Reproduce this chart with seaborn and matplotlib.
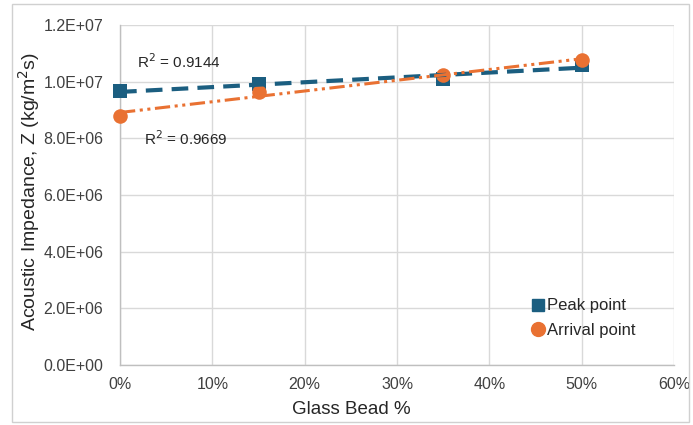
import numpy as np
import pandas as pd
import matplotlib
matplotlib.use("Agg")
import matplotlib.pyplot as plt
import seaborn as sns
from matplotlib.patches import Rectangle
from matplotlib.lines import Line2D

glass_bead = [0, 15, 35, 50]
peak_point = [9.68e6, 9.90e6, 1.008e7, 1.060e7]
arrival_point = [8.79e6, 9.65e6, 1.025e7, 1.075e7]
r2_labels = ["R$^2$ = 0.9144", "R$^2$ = 0.9669"]
series_names = ["Peak point", "Arrival point"]
y_tick_labels = ["0.0E+00", "2.0E+06", "4.0E+06", "6.0E+06", "8.0E+06", "1.0E+07", "1.2E+07"]

sns.set_theme(style="whitegrid")
plt.rcParams['font.family'] = ['Liberation Sans', 'DejaVu Sans']

blue = "#1B5E80"
orange = "#E97132"

fig = plt.figure(figsize=(6.93, 4.25), dpi=100)
ax = fig.add_axes([0.1732, 0.1412, 0.7994, 0.8])

df = pd.DataFrame({"x": glass_bead + glass_bead,
                   "y": peak_point + arrival_point,
                   "s": [series_names[0]] * 4 + [series_names[1]] * 4})

sns.scatterplot(data=df[df.s == series_names[0]], x="x", y="y", marker="s", s=90,
                color=blue, edgecolor=blue, linewidth=0, ax=ax, legend=False,
                zorder=3, clip_on=False)
sns.scatterplot(data=df[df.s == series_names[1]], x="x", y="y", marker="o", s=110,
                color=orange, edgecolor=orange, linewidth=0, ax=ax, legend=False,
                zorder=4, clip_on=False)

xs = np.array([glass_bead[0], glass_bead[-1]], dtype=float)
p1 = np.polyfit(glass_bead, peak_point, 1)
p2 = np.polyfit(glass_bead, arrival_point, 1)
ax.plot(xs, np.polyval(p1, xs), color=blue, lw=3.0, dashes=(4, 2.2), zorder=5, clip_on=False)
ax.plot(xs, np.polyval(p2, xs), color=orange, lw=2.2, dashes=(5, 1.5, 1, 1.5, 1, 1.5),
        zorder=6, clip_on=False)

ax.text(1.8, 1.07e7, r2_labels[0], fontsize=11, va="center", ha="left")
ax.text(2.6, 8.0e6, r2_labels[1], fontsize=11, va="center", ha="left")

ax.set_xlim(0, 60)
ax.set_ylim(0, 1.2e7)
ax.set_xticks(np.arange(0, 61, 10))
ax.set_xticklabels([f"{v}%" for v in range(0, 61, 10)])
ax.set_yticks(np.arange(0, 1.21e7, 2e6))
ax.set_yticklabels(y_tick_labels)
ax.tick_params(axis="both", labelsize=11.5, colors="#404040", length=0)
ax.tick_params(axis="y", pad=12)
ax.tick_params(axis="x", pad=9)
ax.grid(True, color="#D9D9D9", lw=1)
for side in ["top", "right"]:
    ax.spines[side].set_visible(False)
for side in ["left", "bottom"]:
    ax.spines[side].set_color("#BFBFBF")
    ax.spines[side].set_linewidth(1)

ax.set_xlabel("Glass Bead %", fontsize=13.5, color="#262626")
ax.xaxis.set_label_coords(0.418, -0.105)
ax.set_ylabel("Acoustic Impedance, Z (kg/m$^2$s)", fontsize=14, color="#262626")
ax.yaxis.set_label_coords(-0.141, 0.51)

handles = [Line2D([], [], marker="s", color=blue, ls="none", markersize=9),
           Line2D([], [], marker="o", color=orange, ls="none", markersize=10)]
ax.legend(handles, series_names, loc="center left", bbox_to_anchor=(0.724, 0.138),
          frameon=False, fontsize=12, handletextpad=0.05, handlelength=1.0,
          labelspacing=0.55, borderpad=0)

fig.patches.append(Rectangle((12 / 693, 1 - 422 / 425), 677 / 693, 418 / 425,
                             transform=fig.transFigure, fill=False,
                             edgecolor="#D0D0D0", lw=1))

fig.savefig("out.png", dpi=100)
